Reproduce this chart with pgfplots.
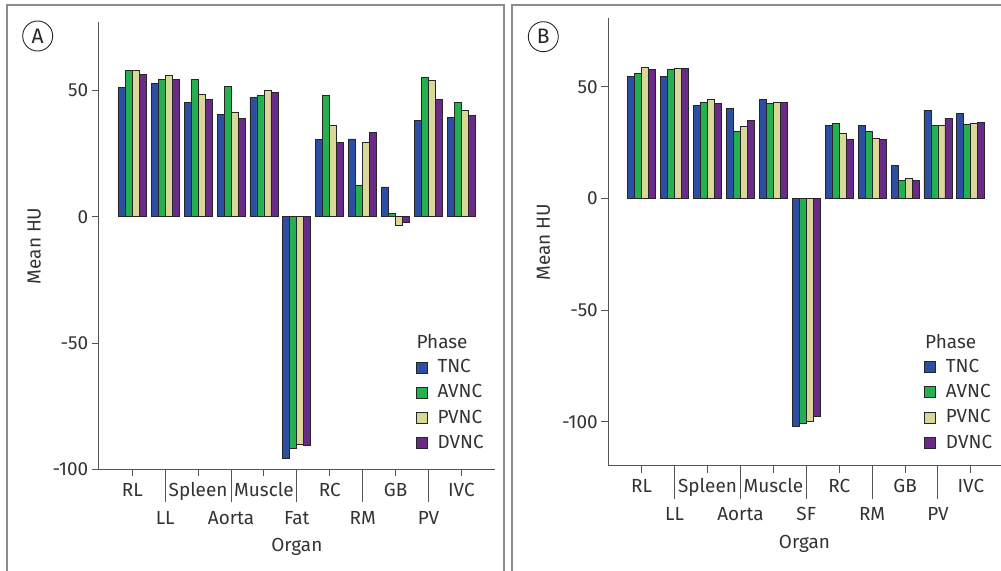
\documentclass[border=0pt]{standalone}
\usepackage{pgfplots}
\pgfplotsset{compat=1.18}
\usepackage{pgfplotstable}
\usepackage{fontspec}
\setmainfont{Fira Sans}
\definecolor{cTNC}{HTML}{2D4FA3}
\definecolor{cAVNC}{HTML}{24B04E}
\definecolor{cPVNC}{HTML}{D9D898}
\definecolor{cDVNC}{HTML}{6A2B88}
\definecolor{txt}{HTML}{333333}
\definecolor{axc}{HTML}{555555}
\definecolor{frm}{HTML}{8C8C8C}
\newcommand{\fs}{\fontsize{19}{21}\selectfont}

\pgfplotstableread{
x TNC AVNC PVNC DVNC
0 51.2 57.9 58.0 56.2
1 52.8 54.5 56.1 54.5
2 45.4 54.5 48.3 46.4
3 40.5 51.7 41.5 38.8
4 47.1 47.9 50.0 49.4
5 -95.6 -91.7 -90.3 -90.5
6 30.6 47.9 36.1 29.5
7 30.8 12.4 29.5 33.3
8 11.8 1.3 -3.6 -2.4
9 38.0 55.3 53.8 46.4
10 39.3 45.1 42.2 40.1
}\dataA

\pgfplotstableread{
x TNC AVNC PVNC DVNC
0 54.7 56.0 58.5 57.7
1 54.8 57.7 58.4 58.4
2 41.5 43.2 44.5 42.7
3 40.2 30.2 32.1 35.1
4 44.5 42.7 43.2 42.9
5 -101.8 -100.6 -99.6 -97.7
6 32.8 33.8 29.3 26.3
7 32.6 29.9 27.1 26.3
8 15.0 8.1 8.9 8.3
9 39.6 32.6 32.9 36.0
10 38.3 33.3 33.5 34.1
}\dataB

\pgfplotsset{
 sq/.style={legend image code/.code={\draw[##1,line width=0.8bp] (0bp,-5.75bp) rectangle (11bp,5.25bp);}},
 panel/.style={
  scale only axis, anchor=south west,
  axis lines=left, axis line style={draw=axc, line width=1bp, -},
  every tick/.style={draw=axc, line width=1bp},
  tick align=outside, major tick length=7bp,
  ybar=0pt, bar width=0.2126,
  ytick={-100,-50,0,50}, yticklabels={-100,-50,0,50},
  xtick={0,2,4,6,8,10}, xticklabels={RL,Spleen,Muscle,RC,GB,IVC},
  extra x ticks={1,3,5,7,9},
  extra x tick style={major tick length=33bp, xticklabel style={yshift=-2bp}},
  tick label style={font=\fs, text=txt},
  xticklabel style={anchor=base, yshift=-20bp},
  yticklabel style={anchor=east},
  every axis x label/.style={at={(axis description cs:0.5,0)}, anchor=base, yshift=-82.5bp, font=\fs, text=txt},
  xlabel={Organ}, ylabel={Mean HU},
  legend style={draw=none, fill=none, inner sep=0pt, outer sep=0pt, row sep=0bp, column sep=10bp,
    font=\fs, text=txt, anchor=north west, nodes={inner sep=0pt, text height=18bp, text depth=7.3bp}},
  legend cell align=left,
  every axis plot/.append style={draw=black!85, line width=0.8bp},
 }
}

\begin{document}
\begin{tikzpicture}
\useasboundingbox (0,0) rectangle (1001bp,-571bp);
% panel frames
\draw[frm, line width=1.5bp] (7bp,-575bp) -- (7bp,-5bp) -- (504bp,-5bp) -- (504bp,-575bp);
\draw[frm, line width=1.5bp] (512bp,-575bp) -- (512bp,-5bp) -- (1003bp,-5bp);
\node[circle, draw=black!85, line width=0.9bp, minimum size=30bp, inner sep=0pt, font=\fontsize{21}{23}\selectfont, text=black!85] at (37.7bp,-36bp) {A};
\node[circle, draw=black!85, line width=0.9bp, minimum size=30bp, inner sep=0pt, font=\fontsize{21}{23}\selectfont, text=black!85] at (543.3bp,-36.7bp) {B};

\begin{axis}[panel,
  at={(98.7bp,-469.3bp)}, width=396.3bp, height=447bp,
  xmin=-1.02, xmax=11.02, ymin=-100, ymax=77,
  extra x tick labels={LL,Aorta,Fat,RM,PV},
  every axis y label/.style={at={(axis description cs:-0.1464,0.5)}, rotate=90, anchor=base, font=\fs, text=txt},
  legend style={at={(axis description cs:0.7999,0.2568)}},
]
\addplot[fill=cTNC, sq] table[x=x, y=TNC]{\dataA};
\addplot[fill=cAVNC, sq] table[x=x, y=AVNC]{\dataA};
\addplot[fill=cPVNC, sq] table[x=x, y=PVNC]{\dataA};
\addplot[fill=cDVNC, sq] table[x=x, y=DVNC]{\dataA};
\legend{TNC,AVNC,PVNC,DVNC}
\end{axis}
\node[anchor=base west, font=\fs, text=txt] at (413bp,-348.5bp) {Phase};

\begin{axis}[panel,
  at={(608.3bp,-465.7bp)}, width=392.2bp, height=447.4bp,
  xmin=-1.014, xmax=10.90, ymin=-119.6, ymax=80.7,
  extra x tick labels={LL,Aorta,SF,RM,PV},
  every axis y label/.style={at={(axis description cs:-0.1487,0.5)}, rotate=90, anchor=base, font=\fs, text=txt},
  legend style={at={(axis description cs:0.8053,0.2494)}},
]
\addplot[fill=cTNC, sq] table[x=x, y=TNC]{\dataB};
\addplot[fill=cAVNC, sq] table[x=x, y=AVNC]{\dataB};
\addplot[fill=cPVNC, sq] table[x=x, y=PVNC]{\dataB};
\addplot[fill=cDVNC, sq] table[x=x, y=DVNC]{\dataB};
\legend{TNC,AVNC,PVNC,DVNC}
\end{axis}
\node[anchor=base west, font=\fs, text=txt] at (921.7bp,-348.5bp) {Phase};
\end{tikzpicture}
\end{document}
